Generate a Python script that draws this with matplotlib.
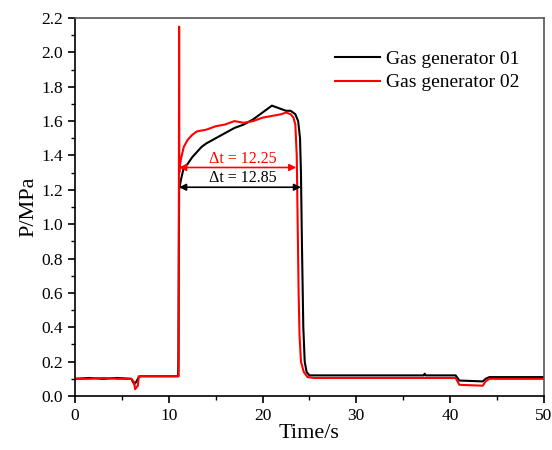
import matplotlib.pyplot as plt
from matplotlib.ticker import MultipleLocator

plt.rcParams['font.family'] = ['Liberation Serif', 'DejaVu Serif']

# Gas generator 01 (black)
t1 = [0, 1.5, 3, 4.5, 6.0, 6.3, 6.5, 6.8, 7.0, 9, 11.0, 11.02, 11.1, 11.3, 11.6,
      12.0, 12.5, 13, 13.5, 14, 15, 16, 17, 18, 19, 20, 20.5, 21, 21.5, 22,
      22.5, 23, 23.5, 23.8, 24.0, 24.1, 24.2, 24.35, 24.5, 24.7, 25, 30, 35,
      37.2, 37.3, 37.4, 40.6, 41.0, 43.5, 43.8, 44.2, 50]
p1 = [0.10, 0.105, 0.10, 0.105, 0.10, 0.07, 0.08, 0.11, 0.115, 0.115, 0.115,
      0.19, 1.20, 1.26, 1.33, 1.35, 1.39, 1.42, 1.45, 1.47, 1.50, 1.53, 1.56,
      1.58, 1.61, 1.65, 1.67, 1.69, 1.68, 1.67, 1.66, 1.66, 1.64, 1.60, 1.50,
      1.30, 0.90, 0.40, 0.20, 0.14, 0.12, 0.12, 0.12, 0.12, 0.13, 0.12, 0.12,
      0.09, 0.085, 0.10, 0.11, 0.11]

# Gas generator 02 (red)
t2 = [0, 1.5, 3, 4.5, 6.0, 6.3, 6.4, 6.7, 6.8, 9, 11.05, 11.1, 11.12, 11.15,
      11.3, 11.6, 12, 12.5, 13, 14, 15, 16, 17, 18, 19, 20, 21, 22, 22.5, 23,
      23.3, 23.5, 23.65, 23.75, 23.85, 23.95, 24.1, 24.4, 24.8, 25.5, 30, 40.6,
      41.0, 43.5, 43.8, 44.2, 50]
p2 = [0.10, 0.10, 0.105, 0.10, 0.10, 0.08, 0.04, 0.06, 0.115, 0.115, 0.115,
      2.15, 1.30, 1.33, 1.38, 1.45, 1.49, 1.52, 1.54, 1.55, 1.57, 1.58, 1.60,
      1.59, 1.60, 1.62, 1.63, 1.64, 1.65, 1.64, 1.62, 1.58, 1.40, 1.00, 0.60,
      0.35, 0.20, 0.14, 0.11, 0.105, 0.105, 0.105, 0.065, 0.06, 0.085, 0.10,
      0.10]

arrow_red = (11.1, 23.6, 1.33, 'Δt = 12.25')
arrow_black = (11.1, 24.1, 1.215, 'Δt = 12.85')

fig = plt.figure(figsize=(5.52, 4.5), dpi=100)
ax = fig.add_axes([0.136, 0.12, 0.849, 0.84])

ax.plot(t1, p1, color='black', lw=1.5, label='Gas generator 01')
ax.plot(t2, p2, color='red', lw=1.5, label='Gas generator 02')

for (x0, x1, y, txt), c in [(arrow_red, 'red'), (arrow_black, 'black')]:
    ax.annotate('', xy=(x0, y), xytext=(x1, y),
                arrowprops=dict(arrowstyle='<|-|>', color=c, lw=1.2,
                                mutation_scale=10, shrinkA=0, shrinkB=0))
    ax.text(17.9, y + 0.005, txt, color=c, fontsize=11.5, ha='center', va='bottom')

ax.set_xlim(0, 50)
ax.set_ylim(0, 2.2)
ax.xaxis.set_major_locator(MultipleLocator(10))
ax.xaxis.set_minor_locator(MultipleLocator(5))
ax.yaxis.set_major_locator(MultipleLocator(0.2))
ax.yaxis.set_minor_locator(MultipleLocator(0.1))
ax.yaxis.set_major_formatter(plt.FuncFormatter(lambda v, _: f'{v:.1f}'))
ax.tick_params(which='both', direction='out', top=False, right=False, labelsize=12.5)
ax.tick_params(which='major', length=5, width=1.2)
ax.tick_params(which='minor', length=3, width=1.0)
for s in ax.spines.values():
    s.set_linewidth(1.2)
ax.spines['top'].set_color('#555555')
ax.spines['right'].set_color('#555555')

ax.set_xlabel('Time/s', fontsize=16, labelpad=0)
ax.set_ylabel('P/MPa', fontsize=16, labelpad=2)

ax.legend(loc='upper right', bbox_to_anchor=(0.964, 0.935), frameon=False,
          fontsize=14, handlelength=2.3, handletextpad=0.3,
          borderaxespad=0, labelspacing=0.3)

fig.savefig('out.png', dpi=100)
